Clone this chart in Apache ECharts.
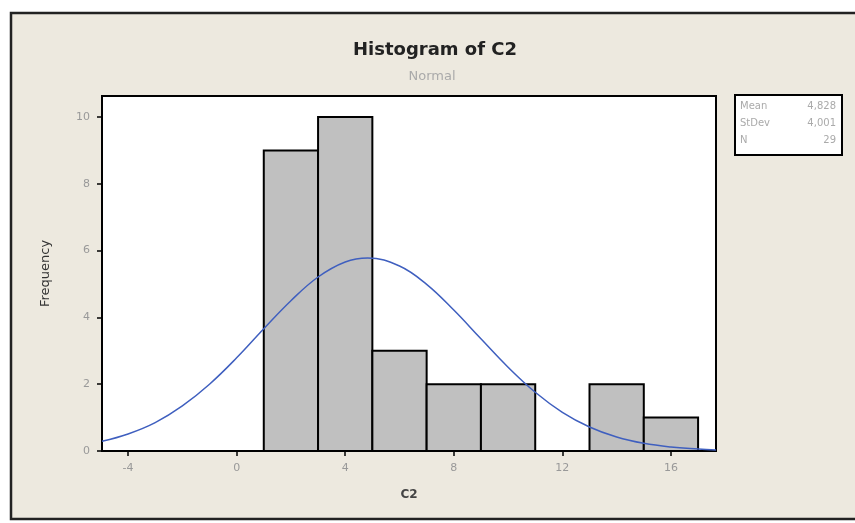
<!DOCTYPE html>
<html lang="en">

<head>
    <meta charset="UTF-8">
    <script src="https://cdn.jsdelivr.net/npm/echarts@6/dist/echarts.min.js"></script>
    <title>Histogram of C2</title>
    <style>
        html, body { margin: 0; padding: 0; background: #fff; }
        #main { width: 855px; height: 523px; }
    </style>
</head>

<body>
    <div id="main"></div>

    <script>
        // histogram bins (C2) and counts
        var binStart = [1, 3, 5, 7, 9, 11, 13, 15];
        var binEnd = [3, 5, 7, 9, 11, 13, 15, 17];
        var counts = [9, 10, 3, 2, 2, 0, 2, 1];

        // fitted normal curve
        var curveX = [-4.96, -4, -3, -2, -1, 0, 1, 2, 3, 4, 4.83, 6, 7, 8, 9, 10, 11, 12, 13, 14, 15, 16, 17, 17.66];
        var curveY = [0.29, 0.51, 0.85, 1.35, 2.0, 2.79, 3.66, 4.5, 5.21, 5.66, 5.78, 5.54, 4.99, 4.22, 3.36, 2.51, 1.76, 1.16, 0.72, 0.42, 0.23, 0.12, 0.06, 0.03];

        var xTicks = [-4, 0, 4, 8, 12, 16];
        var yTicks = [0, 2, 4, 6, 8, 10];

        var statNames = ['Mean', 'StDev', 'N'];
        var statValues = ['4,828', '4,001', '29'];

        var barData = binStart.map(function (s, i) { return [s, binEnd[i], counts[i]]; });
        var lineData = curveX.map(function (x, i) { return [x, curveY[i]]; });

        var font = 'DejaVu Sans';
        var myChart = echarts.init(document.getElementById('main'));

        // stats box
        var statGraphics = [{
            type: 'rect',
            shape: { x: 735, y: 95, width: 107, height: 60 },
            style: { fill: '#fff', stroke: '#000', lineWidth: 2 }
        }];
        statNames.forEach(function (n, i) {
            statGraphics.push({
                type: 'text', x: 740, y: 106 + i * 17,
                style: { text: n, fill: '#aaa', font: '10px ' + font, verticalAlign: 'middle' }
            });
            statGraphics.push({
                type: 'text', x: 836, y: 106 + i * 17,
                style: { text: statValues[i], fill: '#aaa', font: '10px ' + font, align: 'right', verticalAlign: 'middle' }
            });
        });

        var option = {
            backgroundColor: '#fff',
            animation: false,
            title: [{
                text: 'Histogram of C2',
                left: 430,
                textAlign: 'center',
                top: 36,
                textStyle: { fontFamily: font, fontSize: 18, fontWeight: 'bold', color: '#222' }
            }, {
                text: 'Normal',
                left: 427,
                textAlign: 'center',
                top: 65,
                textStyle: { fontFamily: font, fontSize: 13, fontWeight: 'normal', color: '#aaa' }
            }],
            graphic: [{
                type: 'rect',
                z: -10,
                shape: { x: 11, y: 13, width: 860, height: 506 },
                style: { fill: '#ede9df', stroke: '#222', lineWidth: 2.5 }
            }].concat(statGraphics),
            grid: {
                left: 102, right: 139, top: 96, bottom: 72,
                show: true,
                backgroundColor: '#fff',
                borderColor: '#000',
                borderWidth: 2
            },
            xAxis: {
                type: 'value',
                min: -4.96,
                max: 17.66,
                name: 'C2',
                nameLocation: 'middle',
                nameGap: 38,
                nameTextStyle: { fontFamily: font, fontSize: 12, color: '#444', fontWeight: 'bold' },
                splitLine: { show: false },
                axisLine: { show: true, onZero: false, lineStyle: { color: '#000', width: 2 } },
                axisTick: { show: true, length: 5, customValues: xTicks, lineStyle: { color: '#000', width: 1.5 } },
                axisLabel: { customValues: xTicks, color: '#999', fontFamily: font, fontSize: 11, margin: 12 }
            },
            yAxis: {
                type: 'value',
                min: 0,
                max: 10.63,
                name: 'Frequency',
                nameLocation: 'middle',
                nameGap: 50,
                nameTextStyle: { fontFamily: font, fontSize: 13, color: '#333', fontWeight: 'normal' },
                splitLine: { show: false },
                axisLine: { show: true, onZero: false, lineStyle: { color: '#000', width: 2 } },
                axisTick: { show: true, length: 5, customValues: yTicks, lineStyle: { color: '#000', width: 1.5 } },
                axisLabel: { customValues: yTicks, color: '#999', fontFamily: font, fontSize: 11, margin: 12 }
            },
            series: [{
                type: 'custom',
                data: barData,
                encode: { x: [0, 1], y: 2 },
                renderItem: function (params, api) {
                    if (api.value(2) === 0) return;
                    var p0 = api.coord([api.value(0), 0]);
                    var p1 = api.coord([api.value(1), api.value(2)]);
                    return {
                        type: 'rect',
                        shape: { x: p0[0], y: p1[1], width: p1[0] - p0[0], height: p0[1] - p1[1] },
                        style: { fill: '#c0c0c0', stroke: '#000', lineWidth: 2 }
                    };
                },
                z: 2
            }, {
                type: 'line',
                data: lineData,
                smooth: 0.4,
                showSymbol: false,
                lineStyle: { color: '#3f5fbf', width: 1.5 },
                z: 3
            }]
        };

        myChart.setOption(option);
    </script>
</body>

</html>
